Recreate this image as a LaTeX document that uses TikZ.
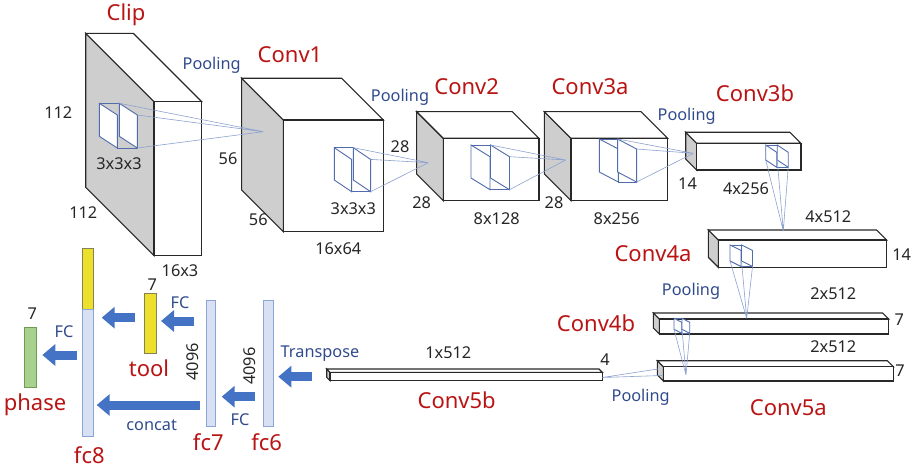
\documentclass[tikz,border=0pt]{standalone}
\usepackage{fontspec}
\setmainfont{Noto Sans}
\usetikzlibrary{arrows.meta}
\definecolor{boxgray}{RGB}{206,206,206}
\definecolor{boxedge}{RGB}{40,40,40}
\definecolor{kedge}{RGB}{80,108,172}
\definecolor{kproj}{RGB}{140,162,208}
\definecolor{redlbl}{RGB}{185,20,20}
\definecolor{bluelbl}{RGB}{47,74,140}
\definecolor{txt}{RGB}{38,38,38}
\definecolor{arrblue}{RGB}{68,114,196}
\definecolor{ybar}{RGB}{236,224,44}
\definecolor{yedge}{RGB}{130,130,84}
\definecolor{bbar}{RGB}{216,225,243}
\definecolor{bedge}{RGB}{140,165,212}
\definecolor{gbar}{RGB}{169,209,142}
\definecolor{gedge}{RGB}{110,155,88}
\tikzset{
  boxline/.style={draw=boxedge, line width=1.1pt, line join=miter},
  kline/.style={draw=kedge, line width=0.9pt},
  projline/.style={draw=kproj, line width=0.6pt},
  lbl/.style={text=redlbl, font=\fontsize{22}{25}\selectfont, inner sep=0pt},
  num/.style={text=txt, font=\fontsize{16.3}{19}\selectfont, inner sep=0pt},
  blu/.style={text=bluelbl, font=\fontsize{16.3}{19}\selectfont, inner sep=0pt},
  bar/.style={draw, line width=1pt, inner sep=0pt, anchor=north west},
  blockarrow/.style={draw=arrblue, line width=9pt, -{Triangle[width=21pt,length=13pt]}},
}
% x y w h d : front face top-left, width, height, depth
\newcommand{\cnnbox}[5]{%
  \filldraw[boxline, fill=boxgray] (#1-#5,#2-#5) -- (#1,#2) -- (#1,#2+#4) -- (#1-#5,#2+#4-#5) -- cycle;
  \filldraw[boxline, fill=white] (#1-#5,#2-#5) -- (#1+#3-#5,#2-#5) -- (#1+#3,#2) -- (#1,#2) -- cycle;
  \filldraw[boxline, fill=white] (#1,#2) rectangle (#1+#3,#2+#4);
}
% x y w d h s name
\newcommand{\kcube}[7]{%
  \filldraw[kline, fill=white] (#1,#2) -- (#1+#3,#2+#4) -- (#1+#3,#2+#4+#5) -- (#1,#2+#5) -- cycle;
  \filldraw[kline, fill=white] (#1+#6,#2) -- (#1+#6+#3,#2+#4) -- (#1+#6+#3,#2+#4+#5) -- (#1+#6,#2+#5) -- cycle;
  \draw[kline] (#1,#2) -- (#1+#6,#2) (#1+#3,#2+#4+#5) -- (#1+#3+#6,#2+#4+#5);
  \coordinate (#7-a) at (#1+#6,#2);
  \coordinate (#7-b) at (#1+#6+#3,#2+#4);
  \coordinate (#7-c) at (#1+#6+#3,#2+#4+#5);
  \coordinate (#7-d) at (#1,#2+#5);
  \coordinate (#7-e) at (#1+#6,#2+#5);
}
\begin{document}
\begin{tikzpicture}[x=1pt,y=-1pt]
\useasboundingbox (0,0) rectangle (916,468);

% ---------- 3D layers ----------
\cnnbox{154}{101.7}{47.7}{154}{68.3}
\cnnbox{283.3}{120}{100}{111.7}{41.7}
\cnnbox{443.3}{138.3}{95.7}{62.4}{26.7}
\cnnbox{571}{138.3}{96.7}{62.4}{26.7}
\cnnbox{696.7}{143.3}{104.3}{26.7}{11}
\cnnbox{718.3}{240}{168.4}{27.3}{10}
\cnnbox{659.3}{319}{229.4}{15}{6}
\cnnbox{663.3}{366.7}{230}{14.3}{6}
\cnnbox{330}{372.3}{272.3}{8.4}{3.3}

% ---------- kernels ----------
\kcube{99.3}{103.3}{18}{11.7}{33}{20}{k0}
\kcube{334.3}{147.7}{17.3}{11.7}{32.3}{19}{k1}
\kcube{471}{145}{19}{11.7}{33}{19.5}{k2}
\kcube{599.3}{139}{19}{10}{33}{18.3}{k3}
\kcube{765.7}{145}{11}{7.3}{15}{11.5}{k4}
\kcube{730}{245}{11}{5.5}{16}{11.5}{k5}
\kcube{674}{318.3}{7.7}{4}{11}{8}{k6}

\coordinate (t0) at (263.3,131.7);
\coordinate (t1) at (428.3,162.7);
\coordinate (t2) at (565.7,160);
\coordinate (t3) at (693.3,153.3);
\coordinate (t4) at (783.3,231);
\coordinate (t5) at (746.7,318.3);
\coordinate (t6) at (686,375);
\coordinate (t7) at (602.3,377.5);
\coordinate (s7a) at (657.8,369);
\coordinate (s7b) at (662,375.5);

\draw[projline] (k0-a) -- (t0) (k0-b) -- (t0) (k0-c) -- (t0);
\draw[projline] (k1-a) -- (t1) (k1-b) -- (t1) (k1-c) -- (t1);
\draw[projline] (k2-a) -- (t2) (k2-b) -- (t2) (k2-c) -- (t2);
\draw[projline] (k3-a) -- (t3) (k3-b) -- (t3) (k3-c) -- (t3);
\draw[projline] (k4-d) -- (t4) (k4-e) -- (t4) (k4-c) -- (t4);
\draw[projline] (k5-d) -- (t5) (k5-e) -- (t5) (k5-c) -- (t5);
\draw[projline] (k6-d) -- (t6) (k6-e) -- (t6) (k6-c) -- (t6);
\draw[projline] (s7a) -- (t7) (s7b) -- (t7);

% ---------- labels top ----------
\node[lbl] (lclip) at (126,15) {Clip};
\node[blu] (p1) at (211.7,65) {Pooling};
\node[num] at (58.3,112.3) {112};
\node[num] at (83.3,212.3) {112};
\node[num] at (119,163.3) {3x3x3};
\node[num] at (180,270.7) {16x3};

\node[lbl] (lconv1) at (290,55) {Conv1};
\node[num] at (228,159) {56};
\node[num] at (258.3,220) {56};
\node[num] at (353.3,208.3) {3x3x3};
\node[num] at (338.3,248.3) {16x64};
\node[blu] (p2) at (400,97.3) {Pooling};
\node[num] at (400,146.7) {28};
\node[num] at (421.7,202.3) {28};

\node[lbl] (lconv2) at (466.7,86.7) {Conv2};
\node[num] at (496.7,218.3) {8x128};
\node[lbl] (lconv3a) at (590,86.7) {Conv3a};
\node[num] at (554,202.7) {28};
\node[num] at (616.7,218.3) {8x256};

\node[blu] (p3) at (686.7,116) {Pooling};
\node[lbl] (lconv3b) at (755,93.3) {Conv3b};
\node[num] at (687.5,184) {14};
\node[num] at (746,188.3) {4x256};

\node[num] at (828.3,216.7) {4x512};
\node[num] at (901.7,255) {14};
\node[lbl] (lconv4a) at (653,253.3) {Conv4a};

\node[blu] (p4) at (691,291.5) {Pooling};
\node[num] at (833.3,293.3) {2x512};
\node[lbl] (lconv4b) at (596,323.3) {Conv4b};
\node[num] at (899.3,320) {7};
\node[num] at (833.3,346.7) {2x512};
\node[num] at (900,370.7) {7};
\node[num] at (605,360) {4};
\node[blu] (p5) at (640.7,397.7) {Pooling};
\node[lbl] (lconv5a) at (788.3,407.3) {Conv5a};

\node[blu] (ltr) at (320,354) {Transpose};
\node[num] at (448.3,352.7) {1x512};
\node[lbl] (lconv5b) at (456.7,400) {Conv5b};

% ---------- bars ----------
\node[bar, draw=yedge, fill=ybar, minimum width=11pt, minimum height=61pt] (fc8y) at (81.7,248.3) {};
\node[bar, draw=bedge, fill=bbar, minimum width=11pt, minimum height=126.7pt] (fc8) at (81.7,309.3) {};
\node[bar, draw=yedge, fill=ybar, minimum width=11.7pt, minimum height=60pt] (tool) at (144.3,293.3) {};
\node[bar, draw=gedge, fill=gbar, minimum width=12pt, minimum height=59.4pt] (phase) at (24,327.3) {};
\node[bar, draw=bedge, fill=bbar, minimum width=9.5pt, minimum height=126pt] (fc7) at (205.7,300) {};
\node[bar, draw=bedge, fill=bbar, minimum width=10pt, minimum height=126pt] (fc6) at (262.7,300) {};

% ---------- block arrows ----------
\coordinate (a1s) at (194.3,321);   \coordinate (a1e) at (161,321);
\coordinate (a2s) at (135,317.7);   \coordinate (a2e) at (101.7,317.7);
\coordinate (a3s) at (76.7,355);    \coordinate (a3e) at (42.3,355);
\coordinate (a4s) at (200,405);     \coordinate (a4e) at (96.7,405);
\coordinate (a5s) at (255,396.7);   \coordinate (a5e) at (221.7,396.7);
\coordinate (a6s) at (311.7,376.7); \coordinate (a6e) at (278.3,376.7);
\draw[blockarrow] (a1s) -- (a1e);
\draw[blockarrow] (a2s) -- (a2e);
\draw[blockarrow] (a3s) -- (a3e);
\draw[blockarrow] (a4s) -- (a4e);
\draw[blockarrow] (a5s) -- (a5e);
\draw[blockarrow] (a6s) -- (a6e);

% ---------- bottom labels ----------
\node[num] at (152.3,284.3) {7};
\node[num] at (32.3,314) {7};
\node[blu] at (180,302.7) {FC};
\node[blu] at (64,331.7) {FC};
\node[lbl] (ltool) at (149,368.3) {tool};
\node[lbl] (lphase) at (35,404.3) {phase};
\node[num, rotate=90] at (192.7,361.7) {4096};
\node[num, rotate=90] at (250,366) {4096};
\node[blu] at (151.7,425) {concat};
\node[blu] at (240,420) {FC};
\node[lbl] (lfc7) at (208.3,441.7) {fc7};
\node[lbl] (lfc6) at (266.7,441.7) {fc6};
\node[lbl] (lfc8) at (89.3,455) {fc8};
\end{tikzpicture}
\end{document}
